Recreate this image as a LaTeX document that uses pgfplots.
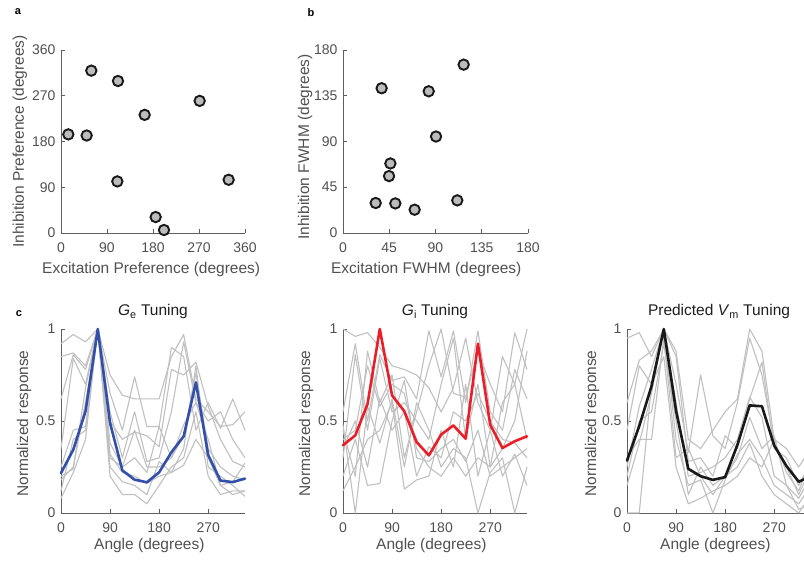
\documentclass[border=0pt]{standalone}
\usepackage{fontspec}
\setmainfont{Liberation Sans}
\usepackage{pgfplots}
\usepackage{pgfplotstable}
\pgfplotsset{compat=1.18}
\definecolor{txt}{RGB}{80,80,80}
\definecolor{ttl}{RGB}{30,30,30}
\definecolor{ax}{RGB}{95,95,95}
\definecolor{gl}{RGB}{192,192,192}
\definecolor{mk}{RGB}{188,188,188}
\definecolor{bl}{RGB}{50,80,170}
\definecolor{rd}{RGB}{235,30,40}

\pgfplotstableread{
a g1 g2 g3 g4 g5 g6 g7 g8 g9 m
0 0.92 0.85 0.62 0.35 0.25 0.18 0.12 0.08 0.20 0.217
22.5 0.97 0.87 0.86 0.84 0.45 0.25 0.40 0.22 0.24 0.344
45 0.93 0.80 0.78 0.70 0.47 0.60 0.45 0.40 0.68 0.553
67.5 1 1 1 1 1 1 1 1 1 1
90 0.75 0.65 0.50 0.55 0.38 0.30 0.25 0.20 0.32 0.489
112.5 0.64 0.45 0.40 0.30 0.25 0.25 0.17 0.10 0.22 0.232
135 0.62 0.74 0.44 0.55 0.30 0.45 0.15 0.10 0.20 0.181
157.5 0.62 0.47 0.42 0.28 0.22 0.25 0.10 0.05 0.16 0.167
180 0.62 0.47 0.36 0.30 0.47 0.25 0.28 0.15 0.20 0.221
202.5 0.85 0.90 0.78 0.55 0.30 0.30 0.22 0.25 0.22 0.33
225 0.97 0.85 0.75 0.93 0.42 0.48 0.35 0.30 0.26 0.417
247.5 0.62 0.45 0.82 0.60 0.76 0.60 0.80 0.55 0.40 0.71
270 0.55 0.60 0.58 0.50 0.35 0.40 0.25 0.20 0.30 0.315
292.5 0.47 0.46 0.40 0.55 0.25 0.15 0.20 0.10 0.15 0.176
315 0.48 0.62 0.28 0.40 0.20 0.10 0.15 0.12 0.17 0.168
337.5 0.55 0.45 0.25 0.30 0.18 0.12 0.09 0.12 0.27 0.187
}\tabGe

\pgfplotstableread{
a g1 g2 g3 g4 g5 g6 g7 g8 g9 m
0 1.0 0.55 0.45 0.30 0.20 0.48 0.12 0.40 0.35 0.368
22.5 0.96 0.92 0.20 0.86 0.40 0.00 0.25 0.45 0.50 0.422
45 0.98 0.50 0.88 0.45 0.15 0.58 0.40 0.80 0.25 0.592
67.5 0.90 0.86 0.60 0.84 0.16 0.38 0.45 0.58 0.62 1.0
90 0.80 0.72 0.75 0.55 0.50 0.62 0.60 0.70 0.45 0.639
112.5 0.78 0.74 0.30 0.60 0.72 0.25 0.13 0.65 0.55 0.553
135 0.75 0.62 0.55 0.50 0.30 0.60 0.18 0.35 0.20 0.386
157.5 0.68 0.99 0.80 0.40 0.28 0.45 0.20 0.25 0.36 0.313
180 0.55 0.74 1.0 0.70 0.35 0.25 0.45 0.20 0.30 0.426
202.5 0.68 0.99 0.65 0.95 0.40 0.35 0.25 0.30 0.55 0.476
225 0.95 0.60 0.63 0.40 0.28 0.30 0.70 0.20 0.50 0.404
247.5 0.60 0.99 0.88 0.70 0.45 0.00 0.20 0.30 0.65 0.92
270 0.45 0.55 0.70 0.25 0.20 0.22 0.45 0.25 0.50 0.48
292.5 0.85 0.45 0.55 0.35 0.25 0.30 0.20 0.60 0.40 0.353
315 0.70 0.78 0.98 0.50 0.30 0.00 0.32 0.70 0.38 0.39
337.5 1.0 0.62 0.78 0.88 0.35 0.25 0.15 0.40 0.30 0.417
}\tabGi

\pgfplotstableread{
a g1 g2 g3 g4 g5 g6 g7 g8 m
0 0.95 0.60 0.45 0.25 0.15 0.30 0.00 0.20 0.285
22.5 0.98 0.83 0.80 0.58 0.38 0.40 0.00 0.50 0.473
45 0.85 0.88 0.70 0.78 0.65 0.40 0.70 0.55 0.69
67.5 1 1 1 1 1 0.95 0.85 0.92 1
90 0.88 0.70 0.85 0.60 0.40 0.30 0.25 0.50 0.555
112.5 0.40 0.33 0.28 0.20 0.15 0.35 0.05 0.10 0.24
135 0.35 0.75 0.30 0.22 0.18 0.20 0.08 0.25 0.2
157.5 0.45 0.42 0.20 0.25 0.00 0.10 0.12 0.15 0.18
180 0.55 0.35 0.42 0.30 0.18 0.20 0.15 0.20 0.195
202.5 0.62 0.60 0.35 0.40 0.32 0.25 0.20 0.30 0.37
225 1.0 0.95 0.62 0.63 0.40 0.38 0.30 0.52 0.585
247.5 0.88 0.75 0.82 0.52 0.30 0.20 0.25 0.35 0.58
270 0.40 0.38 0.35 0.20 0.15 0.10 0.40 0.42 0.367
292.5 0.35 0.25 0.30 0.15 0.10 0.05 0.22 0.15 0.255
315 0.25 0.10 0.15 0.08 0.05 0.00 0.12 0.02 0.17
337.5 0.35 0.25 0.28 0.20 0.15 0.10 0.30 0.05 0.2
}\tabVm

\pgfplotsset{mystyle/.style={
  scale only axis, width=184pt, height=183pt,
  axis x line*=bottom, axis y line*=left,
  axis line style={ax, line width=0.8pt, -},
  tick style={ax, line width=0.8pt}, major tick length=4pt, tick align=inside,
  /pgf/number format/assume math mode=true,
  tick label style={font=\fontsize{14}{16}\selectfont, text=txt},
  xticklabel style={yshift=-6pt},
  yticklabel style={xshift=-2pt},
  label style={font=\fontsize{15.5}{18}\selectfont, text=txt},
  title style={font=\fontsize{15.5}{18}\selectfont, text=ttl, at={(axis description cs:0.5,1.06)}, anchor=center},
  clip=false,
  },
  sc/.style={only marks, mark=*, mark size=5.2pt, mark options={fill=mk, draw=black!90, line width=1.9pt}},
  tun/.style={mystyle, height=184pt, xmin=0, xmax=337.5, ymin=0, ymax=1,
    xtick={0,90,180,270}, ytick={0,0.5,1},
    xlabel={Angle (degrees)}, ylabel={Normalized response},
    xlabel style={at={(axis description cs:0.48,-0.174)}, anchor=center},
    ylabel style={at={(axis description cs:-0.2,0.486)}, anchor=center}},
  gr/.style={gl, line width=1.1pt, line join=round},
  mn/.style={line width=2.6pt, line join=round, line cap=round},
}

\begin{document}
\begin{tikzpicture}
\useasboundingbox (0pt,0pt) rectangle (804pt,566pt);

% panel a
\begin{axis}[mystyle, at={(61pt,333pt)}, anchor=south west,
  xmin=0, xmax=360, ymin=0, ymax=360,
  xtick={0,90,180,270,360}, ytick={0,90,180,270,360},
  xlabel={Excitation Preference (degrees)},
  ylabel={Inhibition Preference (degrees)},
  xlabel style={at={(axis description cs:0.49,-0.202)}, anchor=center},
  ylabel style={at={(axis description cs:-0.223,0.5)}, anchor=center}]
\addplot[sc] coordinates {
(14.3,194) (50.2,191.8) (59.3,319.4) (111.5,299) (110.2,101.5)
(163.7,232.4) (271.3,259.9) (328,104.7) (185.2,31.4) (201.5,5.9)};
\end{axis}

% panel b
\begin{axis}[mystyle, width=185pt, at={(343pt,333pt)}, anchor=south west,
  xmin=0, xmax=180, ymin=0, ymax=180,
  xtick={0,45,90,135,180}, ytick={0,45,90,135,180},
  xlabel={Excitation FWHM (degrees)},
  ylabel={Inhibition FWHM (degrees)},
  xlabel style={at={(axis description cs:0.45,-0.202)}, anchor=center},
  ylabel style={at={(axis description cs:-0.205,0.47)}, anchor=center}]
\addplot[sc] coordinates {
(37.6,142.4) (117.4,165.6) (83.4,139.4) (90.5,94.9) (46.1,68.4)
(44.8,56) (31.8,29.5) (50.9,29.1) (69.7,22.9) (111.2,32.1)};
\end{axis}

% panel c1
\begin{axis}[tun, at={(61pt,53pt)}, anchor=south west,
  title={\textit{G}\textsubscript{e} Tuning}]
\pgfplotsinvokeforeach{g1,g2,g3,g4,g5,g6,g7,g8,g9}{
  \addplot[gr] table[x=a, y=#1] {\tabGe};
}
\addplot[bl, mn] table[x=a, y=m] {\tabGe};
\end{axis}

% panel c2
\begin{axis}[tun, at={(343pt,53pt)}, anchor=south west,
  title={\textit{G}\textsubscript{i} Tuning}]
\pgfplotsinvokeforeach{g1,g2,g3,g4,g5,g6,g7,g8,g9}{
  \addplot[gr] table[x=a, y=#1] {\tabGi};
}
\addplot[rd, mn] table[x=a, y=m] {\tabGi};
\end{axis}

% panel c3
\begin{axis}[tun, at={(627pt,53pt)}, anchor=south west,
  title={Predicted \textit{V}\textsubscript{m} Tuning},
  ylabel style={at={(axis description cs:-0.19,0.486)}}]
\pgfplotsinvokeforeach{g1,g2,g3,g4,g5,g6,g7,g8}{
  \addplot[gr] table[x=a, y=#1] {\tabVm};
}
\addplot[black!90, mn] table[x=a, y=m] {\tabVm};
\end{axis}

\node[font=\bfseries\fontsize{11}{12}\selectfont, text=black] at (18pt,554pt) {a};
\node[font=\bfseries\fontsize{11}{12}\selectfont, text=black] at (311pt,553pt) {b};
\node[font=\bfseries\fontsize{11}{12}\selectfont, text=black] at (19pt,252pt) {c};
\end{tikzpicture}
\end{document}
